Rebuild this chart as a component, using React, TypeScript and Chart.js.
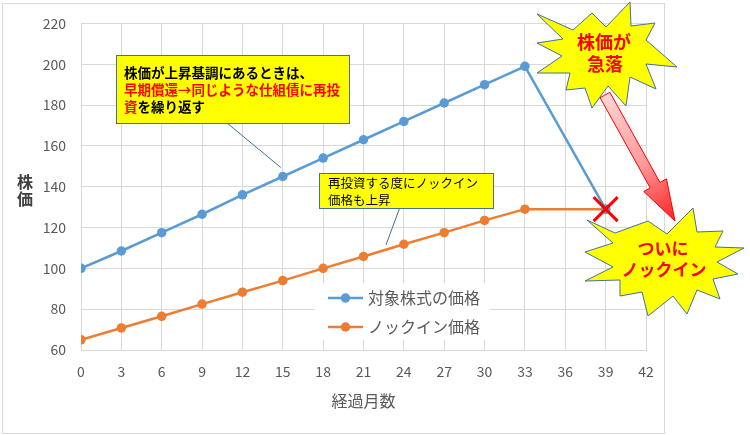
import React, { useEffect, useRef } from "react";
import { Chart, registerables } from "chart.js";

Chart.register(...registerables);

// ---------- data ----------
const months = [0, 3, 6, 9, 12, 15, 18, 21, 24, 27, 30, 33, 39];
const stockPrice = [100, 108.5, 117.5, 126.5, 136, 145, 154, 163, 172, 181, 190, 199, 129];
const knockInPrice = [65, 70.8, 76.5, 82.5, 88.3, 94, 100, 105.8, 111.8, 117.5, 123.5, 129, 129];
const seriesLabels = ["対象株式の価格", "ノックイン価格"];
const xRange = [0, 42, 3];
const yRange = [60, 220, 20];
const yAxisTitle = ["株", "価"];
const xAxisTitle = "経過月数";
const note1Line1 = "株価が上昇基調にあるときは、";
const note1Line2 = "早期償還→同じような仕組債に再投";
const note1Line3Red = "資";
const note1Line3Black = "を繰り返す";
const note2Lines = ["再投資する度にノックイン", "価格も上昇"];
const burst1Lines = ["株価が", "急落"];
const burst2Lines = ["ついに", "ノックイン"];

const BLUE = "#5B9BD5";
const ORANGE = "#ED7D31";
const GRID = "#D9D9D9";
const TEXT = "#595959";
const JP = "'Noto Sans CJK JP', 'Noto Sans', sans-serif";
const NUM = "'Noto Sans CJK JP', 'Open Sans', sans-serif";

const burst1 = [
  [537, 14], [573, 30], [592, 13], [606, 27], [630, 2], [631, 26], [655, 23], [646, 40],
  [677, 67], [646, 64], [656, 89], [630, 77], [626, 106], [608, 86], [592, 108], [585, 88],
  [566, 90], [570, 73], [537, 73], [562, 56], [537, 43], [563, 39],
];
const burst2 = [
  [587, 220], [615, 233], [648, 221], [667, 234], [693, 208], [697, 232], [723, 231], [715, 247],
  [744, 248], [717, 262], [738, 274], [713, 279], [720, 299], [697, 290], [687, 314], [673, 296],
  [648, 316], [642, 292], [620, 296], [620, 280], [585, 281], [613, 267], [585, 252], [613, 243],
];

function drawPoly(ctx: CanvasRenderingContext2D, pts: number[][]) {
  ctx.beginPath();
  pts.forEach((p, i) => (i === 0 ? ctx.moveTo(p[0], p[1]) : ctx.lineTo(p[0], p[1])));
  ctx.closePath();
  ctx.fillStyle = "#FFFF00";
  ctx.fill();
  ctx.strokeStyle = "#41719C";
  ctx.lineWidth = 1;
  ctx.stroke();
}

const decorPlugin = {
  id: "decor",
  beforeDraw(chart: any) {
    const ctx = chart.ctx as CanvasRenderingContext2D;
    ctx.save();
    ctx.fillStyle = "#FFFFFF";
    ctx.fillRect(0, 0, chart.width, chart.height);
    ctx.strokeStyle = GRID;
    ctx.lineWidth = 1;
    ctx.strokeRect(2.5, 3.5, 662, 430);
    ctx.restore();
  },
  afterDraw(chart: any) {
    const ctx = chart.ctx as CanvasRenderingContext2D;
    const xs = chart.scales.x;
    const ys = chart.scales.y;
    ctx.save();

    // axis titles
    ctx.fillStyle = "#404040";
    ctx.font = `bold 16px ${JP}`;
    ctx.textAlign = "center";
    ctx.textBaseline = "middle";
    yAxisTitle.forEach((c, i) => ctx.fillText(c, 25, 182 + i * 17));
    ctx.fillStyle = TEXT;
    ctx.font = `16px ${JP}`;
    ctx.fillText(xAxisTitle, (chart.chartArea.left + chart.chartArea.right) / 2, 401);

    // legend
    ctx.fillStyle = "#FFFFFF";
    ctx.fillRect(315, 283, 175, 57);
    const legendColors = [BLUE, ORANGE];
    seriesLabels.forEach((lab, i) => {
      const y = 298 + i * 29;
      ctx.strokeStyle = legendColors[i];
      ctx.lineWidth = 2.5;
      ctx.beginPath();
      ctx.moveTo(328, y);
      ctx.lineTo(363, y);
      ctx.stroke();
      ctx.fillStyle = legendColors[i];
      ctx.beginPath();
      ctx.arc(345.5, y, 4.75, 0, Math.PI * 2);
      ctx.fill();
      ctx.fillStyle = TEXT;
      ctx.font = `16px ${JP}`;
      ctx.textAlign = "left";
      ctx.fillText(lab, 368, y);
    });

    // note 1
    ctx.strokeStyle = "#41719C";
    ctx.lineWidth = 1;
    ctx.beginPath();
    ctx.moveTo(227, 123);
    ctx.lineTo(xs.getPixelForValue(15) - 2, ys.getPixelForValue(145) - 9);
    ctx.stroke();
    ctx.fillStyle = "#FFFF00";
    ctx.fillRect(116.5, 55.5, 233, 68);
    ctx.strokeRect(116.5, 55.5, 233, 68);
    ctx.font = `bold 13.5px ${JP}`;
    ctx.textAlign = "left";
    ctx.fillStyle = "#000000";
    ctx.fillText(note1Line1, 124, 73);
    ctx.fillStyle = "#FF0000";
    ctx.fillText(note1Line2, 124, 90);
    ctx.fillText(note1Line3Red, 124, 107);
    const w = ctx.measureText(note1Line3Red).width;
    ctx.fillStyle = "#000000";
    ctx.fillText(note1Line3Black, 124 + w, 107);

    // note 2
    ctx.strokeStyle = "#41719C";
    ctx.beginPath();
    ctx.moveTo(400, 207);
    ctx.lineTo(386, 245);
    ctx.stroke();
    ctx.fillStyle = "#FFFF00";
    ctx.fillRect(319.5, 173.5, 174, 35);
    ctx.strokeRect(319.5, 173.5, 174, 35);
    ctx.fillStyle = "#000000";
    ctx.font = `12.5px ${JP}`;
    note2Lines.forEach((t, i) => ctx.fillText(t, 328, 183 + i * 17));

    // arrow
    const S = [605, 95];
    const T = [675, 221];
    const dx = T[0] - S[0];
    const dy = T[1] - S[1];
    const L = Math.hypot(dx, dy);
    const u = [dx / L, dy / L];
    const n = [-u[1], u[0]];
    const hw = 5.6;
    const headL = 41;
    const headW = 13;
    const B = [T[0] - u[0] * headL, T[1] - u[1] * headL];
    const pts = [
      [S[0] + n[0] * hw, S[1] + n[1] * hw],
      [B[0] + n[0] * hw, B[1] + n[1] * hw],
      [B[0] + n[0] * headW, B[1] + n[1] * headW],
      [T[0], T[1]],
      [B[0] - n[0] * headW, B[1] - n[1] * headW],
      [B[0] - n[0] * hw, B[1] - n[1] * hw],
      [S[0] - n[0] * hw, S[1] - n[1] * hw],
    ];
    const grad = ctx.createLinearGradient(S[0], S[1], T[0], T[1]);
    grad.addColorStop(0, "#FFD4D4");
    grad.addColorStop(0.55, "#FF9A9A");
    grad.addColorStop(1, "#FF2020");
    ctx.beginPath();
    pts.forEach((p, i) => (i === 0 ? ctx.moveTo(p[0], p[1]) : ctx.lineTo(p[0], p[1])));
    ctx.closePath();
    ctx.fillStyle = grad;
    ctx.fill();
    ctx.strokeStyle = "#FF0000";
    ctx.lineWidth = 1;
    ctx.stroke();

    // bursts
    drawPoly(ctx, burst1);
    drawPoly(ctx, burst2);
    ctx.fillStyle = "#FF0000";
    ctx.textAlign = "center";
    ctx.font = `bold 18px ${JP}`;
    ctx.fillText(burst1Lines[0], 604, 42);
    ctx.fillText(burst1Lines[1], 605, 64);
    ctx.font = `bold 17px ${JP}`;
    ctx.fillText(burst2Lines[0], 663, 249);
    ctx.fillText(burst2Lines[1], 664, 270);

    // X mark at knock-in point
    const px = xs.getPixelForValue(months[months.length - 1]);
    const py = ys.getPixelForValue(knockInPrice[knockInPrice.length - 1]);
    ctx.strokeStyle = "#FF0000";
    ctx.lineWidth = 3;
    ctx.beginPath();
    ctx.moveTo(px - 12, py - 12);
    ctx.lineTo(px + 12, py + 12);
    ctx.moveTo(px + 12, py - 12);
    ctx.lineTo(px - 12, py + 12);
    ctx.stroke();

    ctx.restore();
  },
};

export default function App() {
  const ref = useRef<HTMLCanvasElement | null>(null);
  useEffect(() => {
    if (!ref.current) return;
    const chart = new Chart(ref.current, {
      type: "line",
      data: {
        datasets: [
          {
            label: seriesLabels[0],
            data: months.map((m, i) => ({ x: m, y: stockPrice[i] })),
            borderColor: BLUE,
            backgroundColor: BLUE,
            borderWidth: 2.5,
            pointRadius: 4.75,
            pointBorderWidth: 0,
            pointBackgroundColor: BLUE,
          },
          {
            label: seriesLabels[1],
            data: months.map((m, i) => ({ x: m, y: knockInPrice[i] })),
            borderColor: ORANGE,
            backgroundColor: ORANGE,
            borderWidth: 2.5,
            pointRadius: 4.75,
            pointBorderWidth: 0,
            pointBackgroundColor: ORANGE,
          },
        ],
      },
      options: {
        responsive: false,
        animation: false,
        layout: { padding: { left: 0, right: 104, top: 20, bottom: 0 } },
        plugins: { legend: { display: false }, tooltip: { enabled: false } },
        scales: {
          x: {
            type: "linear",
            min: xRange[0],
            max: xRange[1],
            afterFit: (s: any) => {
              s.height = 85;
            },
            ticks: { stepSize: xRange[2], color: TEXT, font: { size: 14, family: NUM }, padding: 13, maxRotation: 0 },
            grid: { color: GRID, drawTicks: false },
            border: { color: GRID },
          },
          y: {
            min: yRange[0],
            max: yRange[1],
            afterFit: (s: any) => {
              s.width = 81;
            },
            ticks: { stepSize: yRange[2], color: TEXT, font: { size: 14, family: NUM }, padding: 15 },
            grid: { color: GRID, drawTicks: false },
            border: { color: GRID },
          },
        },
      },
      plugins: [decorPlugin],
    });
    return () => chart.destroy();
  }, []);
  return (
    <div style={{ position: "fixed", left: 0, top: 0, width: 750, height: 435, background: "#fff" }}>
      <canvas ref={ref} width={750} height={435} style={{ display: "block" }} />
    </div>
  );
}
